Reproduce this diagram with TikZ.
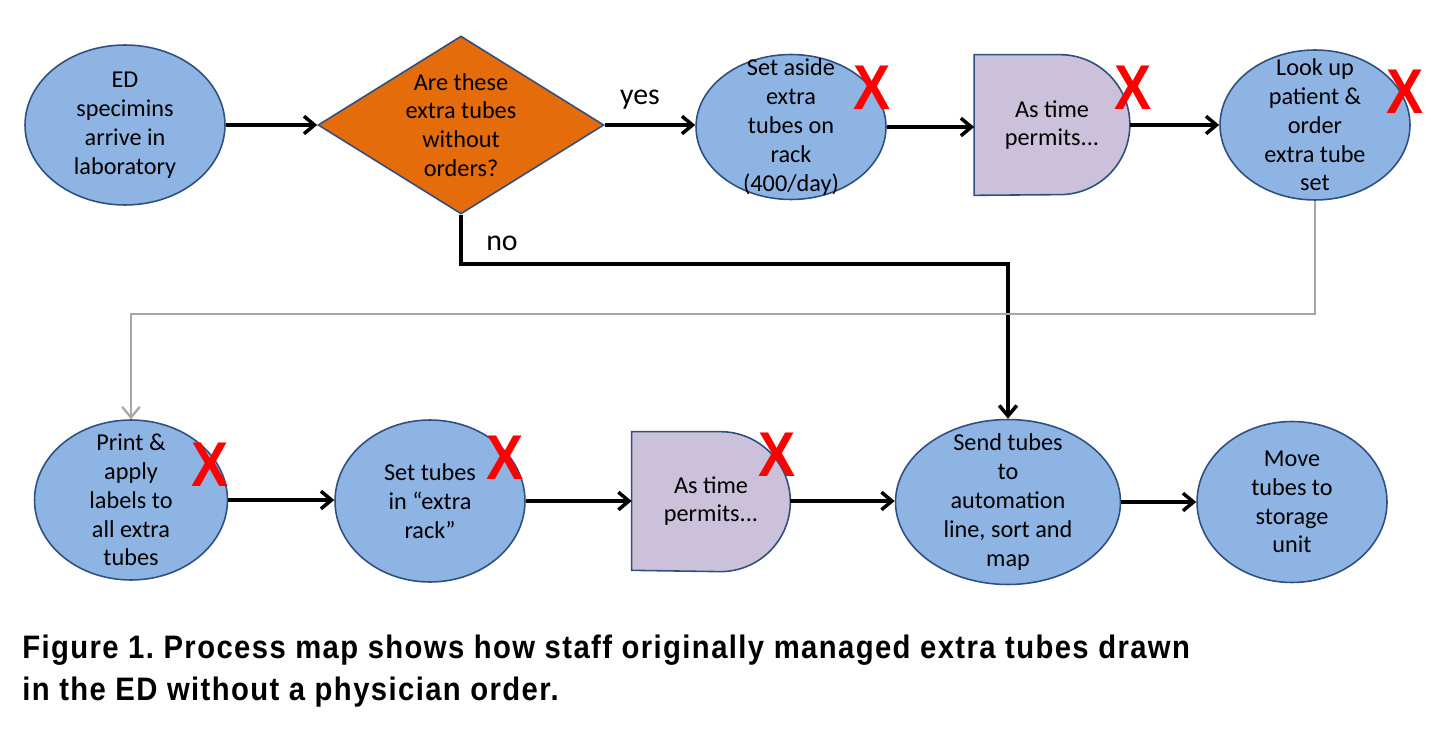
\documentclass[tikz,border=0pt]{standalone}
\usepackage{fontspec}
\setmainfont{Carlito}
\newfontfamily\capfont[FakeStretch=0.9,LetterSpace=4.3]{Liberation Sans}
\newfontfamily\xfont[FakeStretch=0.88]{Liberation Sans}
\usepackage{tikz}
\usetikzlibrary{arrows.meta,shapes,calc,backgrounds}
\frenchspacing
\definecolor{procblue}{HTML}{8EB4E3}
\definecolor{procedge}{HTML}{2F4F7F}
\definecolor{decorange}{HTML}{E46C0A}
\definecolor{delaylilac}{HTML}{CCC1DA}
\definecolor{flowgray}{HTML}{A6A6A6}
\tikzset{
	>={Straight Barb[length=6pt,width=10pt]},
	process/.style={ellipse, draw=procedge, fill=procblue, line width=0.9pt,
		inner sep=-14pt, align=center, font=\fontsize{13.8}{16.4}\selectfont},
	decision/.style={diamond, draw=procedge, fill=decorange, line width=0.9pt,
		inner sep=-20pt, minimum width=5.72cm, minimum height=3.56cm},
	delaybox/.style={rectangle, inner sep=0pt, minimum width=3.1cm, minimum height=2.8cm,
		align=center, font=\fontsize{13.8}{16.4}\selectfont},
	delayshape/.style={draw=procedge, fill=delaylilac, line width=0.9pt},
	flow/.style={draw=black, line width=2pt, ->},
	grayflow/.style={draw=flowgray, line width=1.3pt, ->},
	answer/.style={font=\fontsize{17}{17}\selectfont, inner sep=0pt},
	redx/.style={text=red, font=\xfont\bfseries\fontsize{36}{36}\selectfont, inner sep=0pt},
}

\begin{document}
\begin{tikzpicture}[x=0.02cm, y=-0.02cm]
	\useasboundingbox (0,0) rectangle (1440,729);
	% top row
	\node[process, minimum width=4cm, minimum height=3.2cm] (arrive) at (125,125) {ED\\specimins\\arrive in\\laboratory};
	\node[decision, label={[align=center, font=\fontsize{13.8}{16.4}\selectfont]center:Are these\\extra tubes\\without\\orders?}] (ask) at (461,125) {};
	\node[process, minimum width=3.8cm, minimum height=2.9cm] (aside) at (791,127) {Set aside\\extra\\tubes on\\rack\\(400/day)};
	\node[delaybox] (wait1) at (1052,125) {As time\\permits...};
	\node[process, minimum width=3.8cm, minimum height=3cm] (lookup) at (1315,125) {Look up\\patient \&\\order\\extra tube\\set};
	% bottom row
	\node[process, minimum width=3.86cm, minimum height=3.2cm] (print) at (131,500) {Print \&\\apply\\labels to\\all extra\\tubes};
	\node[process, minimum width=3.8cm, minimum height=3.24cm] (settubes) at (430,501) {Set tubes\\in ``extra\\rack''};
	\node[delaybox, minimum width=3.16cm, minimum height=2.76cm] (wait2) at (711,501) {As time\\permits...};
	\node[process, minimum width=4.5cm, minimum height=3.3cm] (send) at (1008,502) {Send tubes\\to\\automation\\line, sort and\\map};
	\node[process, minimum width=3.8cm, minimum height=3.22cm] (move) at (1292,502) {Move\\tubes to\\storage\\unit};
	\begin{pgfonlayer}{background}
		\foreach \w in {wait1,wait2}
			\filldraw[delayshape] (\w.south west) -- (\w.north west) -- ($(\w.north east)+(-1.4cm,0)$)
				arc[start angle=90, end angle=-90, radius=1.4cm] -- cycle;
	\end{pgfonlayer}
	% connectors
	\draw[flow] (arrive.east) -- (arrive.east -| ask.west);
	\draw[flow] (ask.east) -- (ask.east -| aside.west);
	\draw[flow] (aside.east) -- (aside.east -| wait1.west);
	\draw[flow] (wait1.east) -- (wait1.east -| lookup.west);
	\draw[flow] (ask.south) -- ++(0,49) -| (send.north);
	\draw[grayflow] (lookup.south) -- ++(0,113) -| (print.north);
	\draw[flow] (print.east) -- (print.east -| settubes.west);
	\draw[flow] (settubes.east) -- (settubes.east -| wait2.west);
	\draw[flow] (wait2.east) -- (wait2.east -| send.west);
	\draw[flow] (send.east) -- (send.east -| move.west);
	\node[answer] (yes) at (640,100) {yes};
	\node[answer] (no) at (502,243) {no};
	% crossed-out steps
	\node[redx] (x1) at (872,88) {X};
	\node[redx] (x2) at (1133,88) {X};
	\node[redx] (x3) at (1405,92) {X};
	\node[redx] (x4) at (210,465) {X};
	\node[redx] (x5) at (505,458) {X};
	\node[redx] (x6) at (777,455) {X};
	\node[anchor=north west, align=left, inner sep=0pt,
		font=\capfont\bfseries\fontsize{18.5}{23.8}\selectfont] (caption) at (22,635)
		{Figure 1. Process map shows how staff originally managed extra tubes drawn\\in the ED without a physician order.};
\end{tikzpicture}
\end{document}
